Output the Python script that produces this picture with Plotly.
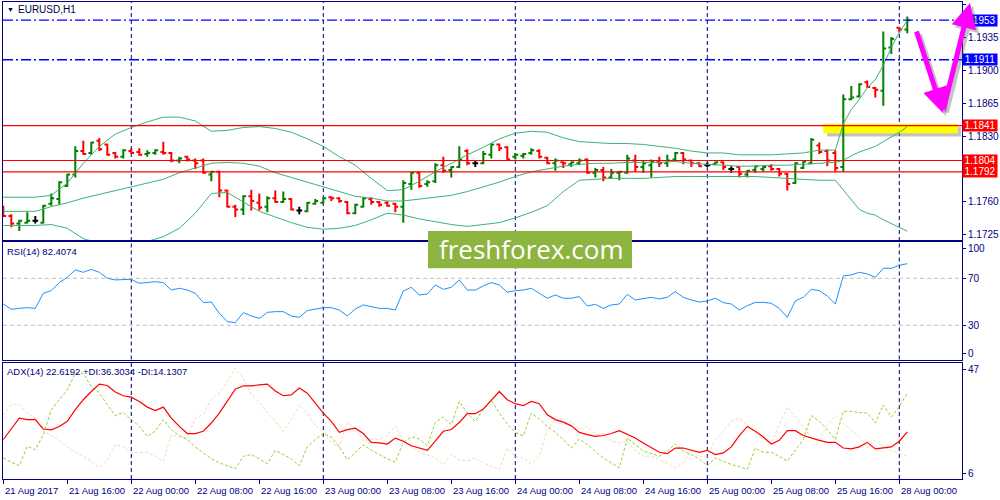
import plotly.graph_objects as go

# ---------------- data (EURUSD H1, 21 Aug 08:00 .. 28 Aug 01:00) ----------------
OPEN = [1.1754, 1.1745, 1.1737, 1.1738, 1.1740, 1.1738, 1.1758, 1.1763, 1.1777, 1.1789,
        1.1814, 1.1812, 1.1825, 1.1821, 1.1812, 1.1808, 1.1814, 1.1813, 1.1811, 1.1812,
        1.1813, 1.1812, 1.1804, 1.1808, 1.1804, 1.1804, 1.1789, 1.1792, 1.1772, 1.1755,
        1.1752, 1.1766, 1.1759, 1.1755, 1.1764, 1.1760, 1.1763, 1.1751, 1.1750, 1.1758,
        1.1759, 1.1765, 1.1764, 1.1760, 1.1748, 1.1755, 1.1763, 1.1760, 1.1759, 1.1758,
        1.1755, 1.1779, 1.1791, 1.1779, 1.1782, 1.1799, 1.1794, 1.1797, 1.1814, 1.1801,
        1.1801, 1.1810, 1.1821, 1.1818, 1.1808, 1.1809, 1.1812, 1.1814, 1.1807, 1.1801,
        1.1802, 1.1800, 1.1801, 1.1805, 1.1791, 1.1794, 1.1786, 1.1791, 1.1791, 1.1804,
        1.1797, 1.1799, 1.1802, 1.1801, 1.1805, 1.1812, 1.1804, 1.1801, 1.1799, 1.1800,
        1.1802, 1.1795, 1.1797, 1.1789, 1.1794, 1.1795, 1.1798, 1.1795, 1.1790, 1.1780,
        1.1796, 1.1801, 1.1820, 1.1814, 1.1812, 1.1797, 1.1869, 1.1872, 1.1887, 1.1881,
        1.1878, 1.1924, 1.1945, 1.1943]
HIGH = [1.1756, 1.1747, 1.1741, 1.1749, 1.1745, 1.1757, 1.1769, 1.1782, 1.1790, 1.1819,
        1.1825, 1.1824, 1.1828, 1.1822, 1.1813, 1.1816, 1.1817, 1.1817, 1.1815, 1.1816,
        1.1824, 1.1813, 1.1808, 1.1809, 1.1806, 1.1806, 1.1793, 1.1793, 1.1773, 1.1757,
        1.1767, 1.1773, 1.1769, 1.1766, 1.1772, 1.1771, 1.1764, 1.1755, 1.1760, 1.1763,
        1.1765, 1.1766, 1.1765, 1.1761, 1.1758, 1.1765, 1.1765, 1.1761, 1.1761, 1.1759,
        1.1783, 1.1792, 1.1792, 1.1783, 1.1801, 1.1808, 1.1798, 1.1819, 1.1816, 1.1804,
        1.1814, 1.1822, 1.1822, 1.1819, 1.1812, 1.1812, 1.1817, 1.1816, 1.1808, 1.1806,
        1.1803, 1.1803, 1.1806, 1.1806, 1.1796, 1.1797, 1.1795, 1.1793, 1.1810, 1.1810,
        1.1804, 1.1805, 1.1808, 1.1810, 1.1813, 1.1813, 1.1805, 1.1802, 1.1802, 1.1803,
        1.1803, 1.1798, 1.1798, 1.1794, 1.1799, 1.1799, 1.1800, 1.1796, 1.1791, 1.1802,
        1.1804, 1.1828, 1.1823, 1.1816, 1.1815, 1.1874, 1.1883, 1.1886, 1.1889, 1.1882,
        1.1941, 1.1935, 1.1946, 1.1957]
LOW = [1.1744, 1.1733, 1.1729, 1.1737, 1.1737, 1.1737, 1.1756, 1.1757, 1.1776, 1.1786,
       1.1810, 1.1810, 1.1814, 1.1809, 1.1806, 1.1806, 1.1811, 1.1809, 1.1808, 1.1810,
       1.1810, 1.1802, 1.1801, 1.1803, 1.1795, 1.1790, 1.1782, 1.1765, 1.1754, 1.1744,
       1.1746, 1.1751, 1.1751, 1.1749, 1.1759, 1.1759, 1.1751, 1.1747, 1.1749, 1.1757,
       1.1758, 1.1761, 1.1759, 1.1747, 1.1747, 1.1754, 1.1757, 1.1755, 1.1755, 1.1749,
       1.1738, 1.1773, 1.1775, 1.1776, 1.1780, 1.1791, 1.1786, 1.1796, 1.1799, 1.1797,
       1.1800, 1.1806, 1.1814, 1.1804, 1.1805, 1.1806, 1.1810, 1.1806, 1.1800, 1.1793,
       1.1796, 1.1797, 1.1799, 1.1790, 1.1786, 1.1782, 1.1785, 1.1783, 1.1790, 1.1792,
       1.1791, 1.1786, 1.1797, 1.1797, 1.1803, 1.1800, 1.1797, 1.1797, 1.1797, 1.1799,
       1.1794, 1.1791, 1.1786, 1.1786, 1.1791, 1.1792, 1.1793, 1.1787, 1.1772, 1.1779,
       1.1795, 1.1800, 1.1811, 1.1798, 1.1792, 1.1792, 1.1868, 1.1871, 1.1881, 1.1871,
       1.1862, 1.1917, 1.1940, 1.1939]
CLOSE = [1.1745, 1.1737, 1.1740, 1.1740, 1.1740, 1.1756, 1.1764, 1.1781, 1.1789, 1.1814,
         1.1811, 1.1823, 1.1816, 1.1810, 1.1808, 1.1815, 1.1812, 1.1810, 1.1812, 1.1815,
         1.1812, 1.1804, 1.1806, 1.1805, 1.1801, 1.1791, 1.1792, 1.1772, 1.1755, 1.1752,
         1.1766, 1.1761, 1.1754, 1.1764, 1.1760, 1.1763, 1.1752, 1.1751, 1.1759, 1.1761,
         1.1764, 1.1764, 1.1761, 1.1748, 1.1757, 1.1764, 1.1760, 1.1757, 1.1756, 1.1755,
         1.1780, 1.1791, 1.1777, 1.1781, 1.1799, 1.1793, 1.1797, 1.1805, 1.1801, 1.1801,
         1.1811, 1.1821, 1.1817, 1.1805, 1.1810, 1.1811, 1.1815, 1.1808, 1.1801, 1.1804,
         1.1801, 1.1802, 1.1804, 1.1791, 1.1794, 1.1786, 1.1791, 1.1792, 1.1806, 1.1797,
         1.1801, 1.1803, 1.1801, 1.1804, 1.1812, 1.1805, 1.1801, 1.1798, 1.1799, 1.1802,
         1.1797, 1.1795, 1.1790, 1.1793, 1.1798, 1.1797, 1.1795, 1.1790, 1.1779, 1.1801,
         1.1803, 1.1826, 1.1813, 1.1804, 1.1796, 1.1869, 1.1871, 1.1885, 1.1882, 1.1879,
         1.1923, 1.1933, 1.1943, 1.1953]

BB_IDX = [0, 2, 4, 6, 8, 10, 12, 14, 16, 18, 20, 22, 24, 26, 28, 30, 32, 34, 36, 38,
          40, 42, 44, 46, 48, 50, 52, 54, 56, 58, 60, 62, 64, 66, 68, 70, 72, 74, 76, 78,
          80, 82, 84, 86, 88, 90, 92, 94, 96, 98, 100, 102, 104,
          105, 106, 107, 108, 109, 110, 111, 112, 113]
BB_UPPER = [1.1765, 1.1765, 1.1765, 1.1767, 1.1780, 1.1801, 1.1819, 1.1832, 1.1839, 1.1845,
            1.1850, 1.1850, 1.1846, 1.1835, 1.1836, 1.1839, 1.1840, 1.1838, 1.1834, 1.1827,
            1.1819, 1.1808, 1.1799, 1.1785, 1.1772, 1.1773, 1.1782, 1.1792, 1.1801, 1.1810,
            1.1818, 1.1827, 1.1833, 1.1835, 1.1834, 1.1828, 1.1824, 1.1823, 1.1822, 1.1822,
            1.1821, 1.1819, 1.1817, 1.1814, 1.1812, 1.1812, 1.1810, 1.1810, 1.1810, 1.1811,
            1.1812, 1.1815, 1.1815,
            1.1843, 1.1858, 1.1869, 1.1881, 1.1890, 1.1905, 1.1924, 1.1940, 1.1953]
BB_MID = [1.1750, 1.1750, 1.1750, 1.1755, 1.1759, 1.1764, 1.1768, 1.1772, 1.1776, 1.1780,
          1.1784, 1.1791, 1.1796, 1.1801, 1.1802, 1.1801, 1.1798, 1.1791, 1.1786, 1.1781,
          1.1776, 1.1771, 1.1766, 1.1764, 1.1761, 1.1761, 1.1763, 1.1765, 1.1767, 1.1771,
          1.1776, 1.1781, 1.1787, 1.1792, 1.1795, 1.1798, 1.1800, 1.1801, 1.1801, 1.1802,
          1.1802, 1.1802, 1.1803, 1.1801, 1.1800, 1.1799, 1.1798, 1.1798, 1.1799, 1.1799,
          1.1800, 1.1801, 1.1802,
          1.1804, 1.1809, 1.1813, 1.1816, 1.1819, 1.1824, 1.1829, 1.1834, 1.1840]
BB_LOWER = [1.1735, 1.1735, 1.1735, 1.1736, 1.1732, 1.1721, 1.1716, 1.1714, 1.1714, 1.1718,
            1.1723, 1.1732, 1.1748, 1.1769, 1.1770, 1.1760, 1.1750, 1.1744, 1.1738, 1.1733,
            1.1731, 1.1732, 1.1735, 1.1741, 1.1748, 1.1746, 1.1742, 1.1739, 1.1736, 1.1734,
            1.1736, 1.1738, 1.1743, 1.1749, 1.1756, 1.1771, 1.1783, 1.1784, 1.1785, 1.1785,
            1.1785, 1.1786, 1.1787, 1.1787, 1.1787, 1.1787, 1.1787, 1.1787, 1.1786, 1.1785,
            1.1784, 1.1783, 1.1783,
            1.1773, 1.1762, 1.1752, 1.1748, 1.1746, 1.1741, 1.1737, 1.1733, 1.1729]

RSI = [48.1, 43.6, 44.4, 45.0, 44.4, 57.2, 59.5, 66.3, 70.8, 77.1,
       75.1, 77.6, 75.1, 70.0, 68.6, 69.1, 69.1, 65.7, 66.3, 67.1,
       66.3, 60.0, 61.5, 60.0, 57.2, 49.3, 49.8, 40.2, 33.1, 32.2,
       40.8, 37.9, 35.9, 41.0, 41.6, 41.6, 37.9, 36.8, 42.5, 43.6,
       45.0, 45.0, 43.0, 37.9, 43.9, 47.3, 45.9, 44.4, 44.4, 43.0,
       59.2, 62.3, 55.8, 56.6, 64.3, 60.6, 62.3, 68.6, 60.0, 60.0,
       63.5, 66.3, 64.3, 58.1, 59.5, 60.0, 61.5, 57.2, 53.0, 55.8,
       53.0, 53.0, 54.4, 46.4, 47.9, 44.4, 47.3, 48.1, 56.4, 51.5,
       52.4, 53.8, 52.4, 53.8, 58.6, 53.8, 51.5, 49.8, 50.7, 53.0,
       49.3, 48.1, 43.0, 46.7, 49.5, 49.5, 48.7, 44.4, 36.8, 50.7,
       53.8, 60.6, 59.5, 54.9, 48.1, 72.0, 72.8, 75.1, 73.7, 70.8,
       78.5, 78.5, 81.0, 82.4074]
ADX = [19.9, 23.6, 27.4, 26.9, 26.9, 23.6, 23.3, 24.5, 26.3, 30.4,
       33.9, 36.8, 39.4, 38.9, 36.6, 35.3, 34.8, 33.3, 31.3, 30.1,
       31.3, 27.4, 24.5, 22.0, 22.0, 22.8, 25.7, 29.2, 33.3, 37.6,
       38.8, 38.8, 39.1, 39.4, 37.0, 35.3, 35.6, 38.0, 36.2, 32.7,
       29.2, 26.3, 22.4, 23.4, 23.9, 22.0, 18.9, 18.7, 18.3, 20.4,
       19.3, 17.7, 16.9, 16.1, 19.3, 22.8, 23.4, 25.9, 29.0, 29.0,
       30.6, 33.6, 36.8, 33.9, 32.5, 31.8, 33.3, 32.5, 28.6, 26.9,
       26.0, 24.7, 22.4, 21.6, 21.0, 21.3, 22.0, 23.0, 21.6, 20.4,
       18.7, 16.9, 15.4, 14.9, 16.9, 16.9, 16.1, 15.4, 16.1, 14.6,
       15.2, 17.3, 21.3, 24.5, 22.8, 20.8, 18.3, 19.6, 23.0, 23.0,
       21.3, 20.4, 19.6, 18.9, 18.9, 16.9, 16.6, 17.3, 18.9, 16.6,
       16.9, 17.3, 19.3, 22.6192]
PLUS_DI = [13.4, 11.9, 10.7, 17.5, 16.3, 21.6, 30.4, 34.1, 37.4, 43.2,
           43.2, 38.5, 36.4, 32.1, 28.3, 29.4, 27.1, 24.5, 21.0, 22.8,
           26.9, 23.4, 21.3, 19.9, 17.3, 15.2, 13.1, 11.7, 10.7, 9.6,
           14.0, 14.6, 13.1, 11.4, 16.1, 14.6, 13.1, 10.7, 17.3, 19.9,
           22.0, 20.8, 17.3, 12.8, 15.2, 18.1, 16.1, 14.6, 13.1, 11.9,
           18.9, 20.8, 20.1, 17.7, 25.9, 27.8, 25.1, 33.3, 29.2, 26.3,
           30.4, 33.6, 29.2, 25.4, 22.4, 21.2, 29.2, 27.1, 24.5, 22.4,
           19.9, 16.9, 20.1, 18.1, 15.8, 13.4, 11.7, 9.9, 20.4, 18.1,
           15.8, 15.0, 14.0, 15.8, 18.4, 15.8, 14.6, 13.1, 10.7, 13.4,
           12.3, 11.1, 10.3, 9.3, 16.9, 15.4, 15.4, 14.0, 12.3, 16.3,
           19.9, 28.3, 26.3, 23.4, 19.9, 29.8, 29.8, 29.4, 29.2, 25.7,
           32.1, 27.8, 31.5, 36.3034]
MINUS_DI = [28.6, 32.1, 32.1, 29.2, 27.4, 22.8, 21.3, 19.3, 17.3, 15.4,
            14.0, 12.3, 9.9, 12.8, 18.1, 17.3, 15.2, 15.4, 15.4, 14.0,
            12.3, 21.6, 20.8, 20.4, 27.4, 28.6, 34.1, 36.2, 40.3, 45.0,
            41.5, 35.6, 32.9, 29.4, 26.3, 22.8, 26.9, 32.1, 29.2, 24.7,
            22.8, 18.7, 17.3, 25.9, 23.9, 19.3, 20.1, 19.9, 21.3, 24.7,
            19.3, 17.3, 15.4, 14.6, 13.4, 11.1, 14.6, 12.8, 12.3, 13.4,
            11.7, 10.5, 9.3, 16.9, 14.0, 13.4, 11.4, 14.0, 23.4, 26.9,
            25.1, 26.3, 23.4, 24.5, 21.6, 22.0, 19.3, 18.7, 19.3, 15.8,
            14.0, 14.0, 12.8, 11.4, 9.9, 11.7, 15.8, 14.0, 14.0, 19.9,
            22.8, 26.3, 27.4, 25.1, 22.0, 19.9, 18.9, 25.4, 31.3, 27.8,
            24.5, 20.4, 19.9, 25.1, 28.3, 25.7, 23.4, 20.8, 16.9, 19.9,
            17.5, 16.0, 15.0, 14.1307]

LEVELS_BLUE = [1.1953, 1.1911]
LEVELS_RED = [1.1841, 1.1804, 1.1792]
ZONE = [1.1833, 1.1843]
PRICE_TICKS = [1.1970, 1.1935, 1.1900, 1.1865, 1.1830, 1.1760, 1.1725]
RSI_LEVELS = [70, 30]
TICK_IDX = [0, 8, 16, 24, 32, 40, 48, 56, 64, 72, 80, 88, 96, 104, 112]
TICK_LABELS = ["21 Aug 2017", "21 Aug 16:00", "22 Aug 00:00", "22 Aug 08:00", "22 Aug 16:00",
               "23 Aug 00:00", "23 Aug 08:00", "23 Aug 16:00", "24 Aug 00:00", "24 Aug 08:00",
               "24 Aug 16:00", "25 Aug 00:00", "25 Aug 08:00", "25 Aug 16:00", "28 Aug 00:00"]
DAY_IDX = [16, 40, 64, 88, 112]

# ---------------- layout helpers ----------------
W, H = 1000, 500
ML, MR, MT, MB = 3, 38, 2, 21
PW, PH = W - ML - MR, H - MT - MB


def pxx(px):
    return (px - ML) / PW


def pxy(py):
    return (H - MB - py) / PH


NAVY = "#000080"
FONT = "Liberation Sans"
XR = [-0.0375, 119.8375]

fig = go.Figure()

n = len(CLOSE)
up = [i for i in range(n) if CLOSE[i] > OPEN[i]]
dn = [i for i in range(n) if CLOSE[i] < OPEN[i]]
dj = [i for i in range(n) if CLOSE[i] == OPEN[i]]


def pick(arr, idx):
    return [arr[i] for i in idx]


for idx, col in [(up, "#008000"), (dn, "#ff0000"), (dj, "#000000")]:
    fig.add_trace(go.Ohlc(
        x=idx, open=pick(OPEN, idx), high=pick(HIGH, idx), low=pick(LOW, idx), close=pick(CLOSE, idx),
        increasing=dict(line=dict(color=col, width=2)),
        decreasing=dict(line=dict(color=col, width=2)),
        tickwidth=0.36, xaxis="x", yaxis="y", showlegend=False, hoverinfo="skip"))

for band in (BB_UPPER, BB_MID, BB_LOWER):
    fig.add_trace(go.Scatter(x=BB_IDX, y=band, mode="lines", line=dict(color="#3cb371", width=1),
                             xaxis="x", yaxis="y", showlegend=False, hoverinfo="skip"))

fig.add_trace(go.Scatter(x=list(range(n)), y=RSI, mode="lines", line=dict(color="#1e90ff", width=1),
                         xaxis="x2", yaxis="y2", showlegend=False, hoverinfo="skip"))

fig.add_trace(go.Scatter(x=list(range(n)), y=MINUS_DI, mode="lines",
                         line=dict(color="#f5d9ae", width=1, dash="3px,2px"),
                         xaxis="x3", yaxis="y3", showlegend=False, hoverinfo="skip"))
fig.add_trace(go.Scatter(x=list(range(n)), y=PLUS_DI, mode="lines",
                         line=dict(color="#9acd32", width=1, dash="3px,2px"),
                         xaxis="x3", yaxis="y3", showlegend=False, hoverinfo="skip"))
fig.add_trace(go.Scatter(x=list(range(n)), y=ADX, mode="lines", line=dict(color="#ff0000", width=1.2),
                         xaxis="x3", yaxis="y3", showlegend=False, hoverinfo="skip"))

ax_common = dict(showline=True, linecolor=NAVY, linewidth=1, mirror=True, showgrid=False, zeroline=False)
tickfont = dict(family=FONT, size=10, color=NAVY)

fig.update_layout(
    width=W, height=H, margin=dict(l=ML, r=MR, t=MT, b=MB),
    paper_bgcolor="white", plot_bgcolor="white", showlegend=False,
    xaxis=dict(domain=[0, 1], anchor="y", range=XR, showticklabels=False, ticks="",
               rangeslider=dict(visible=False), **ax_common),
    xaxis2=dict(domain=[0, 1], anchor="y2", range=XR, showticklabels=False, ticks="", **ax_common),
    xaxis3=dict(domain=[0, 1], anchor="y3", range=XR, tickvals=TICK_IDX, ticktext=[""] * len(TICK_IDX),
                ticks="outside", ticklen=4, tickcolor=NAVY, **ax_common),
    yaxis=dict(domain=[pxy(241), 1], anchor="x", side="right", range=[1.17185, 1.19723],
               tickvals=PRICE_TICKS, ticktext=[f"{v:.4f}" for v in PRICE_TICKS],
               ticks="outside", ticklen=3, tickcolor=NAVY, tickfont=tickfont, **ax_common),
    yaxis2=dict(domain=[pxy(359.5), pxy(241)], anchor="x2", side="right", range=[0.9, 101.7],
                tickvals=[94.9, 70, 30, 6.4], ticktext=["100", "70", "30", "0"],
                ticks="outside", ticklen=3, tickcolor=NAVY, tickfont=tickfont, **ax_common),
    yaxis3=dict(domain=[0, pxy(362.5)], anchor="x3", side="right", range=[6, 47],
                tickvals=[44.7, 8.1], ticktext=["47", "6"],
                ticks="outside", ticklen=3, tickcolor=NAVY, tickfont=tickfont, **ax_common),
)

shapes = []
# vertical day separators
for yr in ("y domain", "y2 domain", "y3 domain"):
    for d in DAY_IDX:
        shapes.append(dict(type="line", xref="x", yref=yr, x0=d, x1=d, y0=0, y1=1,
                           line=dict(color=NAVY, width=1, dash="4px,3px"), layer="below"))
# highlight zone with shadow
shapes.append(dict(type="rect", xref="x", yref="y", x0=103.0, x1=119.7, y0=ZONE[0] - 0.00035, y1=ZONE[1] - 0.00035,
                   fillcolor="rgba(120,120,120,0.45)", line=dict(width=0), layer="below"))
shapes.append(dict(type="rect", xref="x", yref="y", x0=102.5, x1=119.3, y0=ZONE[0], y1=ZONE[1],
                   fillcolor="#ffff00", line=dict(width=0), layer="below"))
# horizontal levels
for lv in LEVELS_BLUE:
    shapes.append(dict(type="line", xref="x domain", yref="y", x0=0, x1=1, y0=lv, y1=lv,
                       line=dict(color="#0000ff", width=1.3, dash="10px,3px,2px,3px")))
for lv in LEVELS_RED:
    shapes.append(dict(type="line", xref="x domain", yref="y", x0=0, x1=1, y0=lv, y1=lv,
                       line=dict(color="#ff0000", width=1.2)))
for lv in RSI_LEVELS:
    shapes.append(dict(type="line", xref="x2 domain", yref="y2", x0=0, x1=1, y0=lv, y1=lv,
                       line=dict(color="#c0c0c0", width=1, dash="4px,3px"), layer="below"))
# watermark box
shapes.append(dict(type="rect", xref="paper", yref="paper", x0=pxx(428), x1=pxx(632), y0=pxy(268.3), y1=pxy(231),
                   fillcolor="#8db43f", line=dict(width=0), layer="above"))

annotations = []
# titles
annotations.append(dict(xref="paper", yref="paper", x=pxx(5), y=pxy(10), text="▼", showarrow=False,
                        xanchor="left", yanchor="middle", font=dict(family=FONT, size=7, color="#000040")))
annotations.append(dict(xref="paper", yref="paper", x=pxx(16), y=pxy(10), text="EURUSD,H1", showarrow=False,
                        xanchor="left", yanchor="middle", font=dict(family=FONT, size=10, color="#000040")))
annotations.append(dict(xref="paper", yref="paper", x=pxx(5), y=pxy(251), text=f"RSI(14) {RSI[-1]:.4f}",
                        showarrow=False, xanchor="left", yanchor="middle", font=dict(family=FONT, size=9.5, color=NAVY)))
annotations.append(dict(xref="paper", yref="paper", x=pxx(5), y=pxy(371),
                        text=f"ADX(14) {ADX[-1]:.4f} +DI:{PLUS_DI[-1]:.4f} -DI:{MINUS_DI[-1]:.4f}",
                        showarrow=False, xanchor="left", yanchor="middle", font=dict(family=FONT, size=9.5, color=NAVY)))
# x labels
for i, lab in zip(TICK_IDX, TICK_LABELS):
    annotations.append(dict(xref="x3", yref="paper", x=i, y=pxy(490), text=lab, showarrow=False,
                            xanchor="left", yanchor="middle", font=dict(family=FONT, size=9.5, color=NAVY)))
# price level labels
for lv in LEVELS_BLUE:
    annotations.append(dict(xref="paper", yref="y", x=1.0, y=lv, text=f"{lv:.4f}", showarrow=False,
                            xanchor="left", yanchor="middle", bgcolor="#0000ff", width=34, borderpad=0,
                            font=dict(family=FONT, size=10, color="white")))
for lv in LEVELS_RED:
    annotations.append(dict(xref="paper", yref="y", x=1.0, y=lv, text=f"{lv:.4f}", showarrow=False,
                            xanchor="left", yanchor="middle", bgcolor="#ff0000", width=34, borderpad=0,
                            font=dict(family=FONT, size=10, color="white")))
# watermark text
annotations.append(dict(xref="paper", yref="paper", x=pxx(531), y=pxy(249), text="freshforex.com",
                        showarrow=False, xanchor="center", yanchor="middle",
                        font=dict(family="Open Sans", size=26, color="white")))
# magenta arrows (with shadow)
for (hx, hy, tx, ty) in [(943, 113, 916, 30), (970, 3, 943, 111)]:
    annotations.append(dict(xref="paper", yref="paper", x=pxx(hx + 3), y=pxy(hy + 3), text="",
                            showarrow=True, ax=tx - hx, ay=ty - hy, arrowcolor="rgba(90,90,90,0.35)",
                            arrowwidth=5, arrowhead=2, arrowsize=1.0))
    annotations.append(dict(xref="paper", yref="paper", x=pxx(hx), y=pxy(hy), text="",
                            showarrow=True, ax=tx - hx, ay=ty - hy, arrowcolor="#ff00ff",
                            arrowwidth=5, arrowhead=2, arrowsize=1.0))

fig.update_layout(shapes=shapes, annotations=annotations)
fig.write_html("out.html", config={"displayModeBar": False},
               post_script="document.body.style.margin='0';document.body.style.overflow='hidden';")
